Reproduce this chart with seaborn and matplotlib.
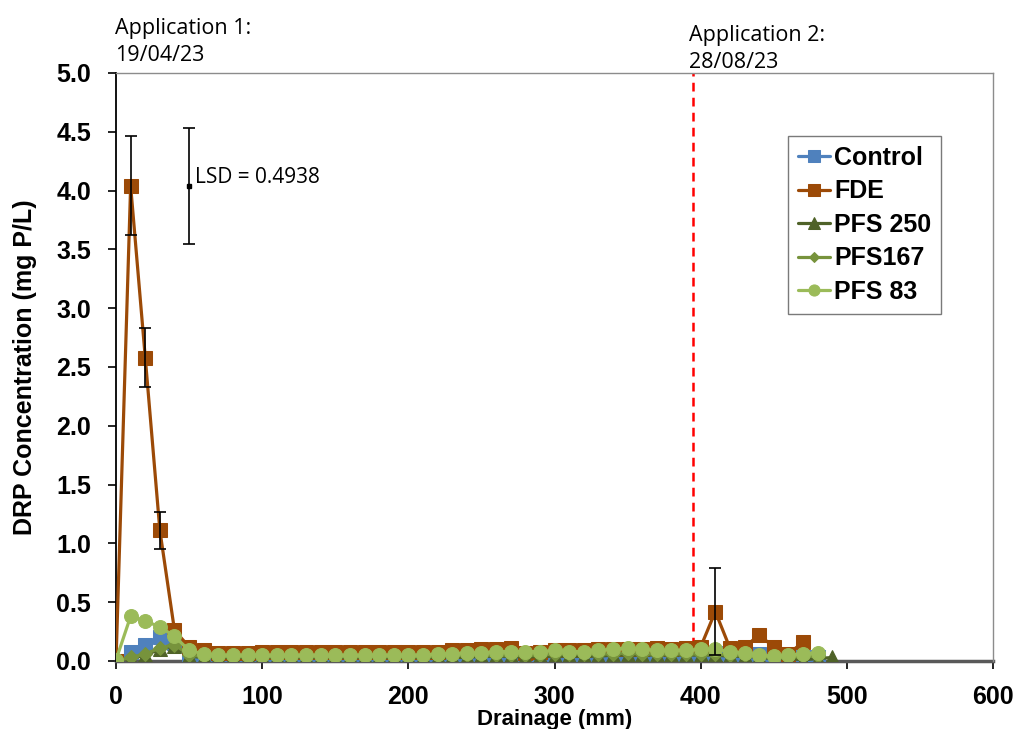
import numpy as np
import pandas as pd
import matplotlib
matplotlib.use("Agg")
import matplotlib.pyplot as plt
import seaborn as sns

# ---------------- data ----------------
drainage = list(range(0, 500, 10))  # 0..490 mm

control = [0.00, 0.08, 0.14, 0.20, 0.15, 0.04, 0.03, 0.03, 0.03, 0.03,
           0.03, 0.03, 0.03, 0.03, 0.03, 0.03, 0.03, 0.03, 0.03, 0.03,
           0.03, 0.03, 0.03, 0.04, 0.04, 0.04, 0.04, 0.03, 0.04, 0.04,
           0.05, 0.05, 0.05, 0.05, 0.05, 0.05, 0.05, 0.05, 0.05, 0.05,
           0.05, 0.07, 0.05, 0.05, 0.06, 0.03, 0.02, 0.03, 0.03]
fde = [0.00, 4.04, 2.58, 1.11, 0.26, 0.12, 0.09, 0.07, 0.07, 0.07,
       0.08, 0.08, 0.08, 0.08, 0.08, 0.08, 0.08, 0.08, 0.08, 0.08,
       0.08, 0.08, 0.08, 0.09, 0.09, 0.10, 0.10, 0.11, 0.07, 0.08,
       0.09, 0.09, 0.09, 0.10, 0.10, 0.10, 0.10, 0.11, 0.10, 0.11,
       0.12, 0.42, 0.11, 0.12, 0.22, 0.12, 0.06, 0.16]
pfs250 = [0.00, 0.02, 0.05, 0.10, 0.13, 0.04, 0.03, 0.03, 0.03, 0.03,
          0.03, 0.03, 0.03, 0.03, 0.03, 0.03, 0.03, 0.03, 0.03, 0.03,
          0.03, 0.03, 0.03, 0.03, 0.03, 0.04, 0.04, 0.04, 0.03, 0.04,
          0.04, 0.04, 0.04, 0.04, 0.05, 0.05, 0.05, 0.05, 0.05, 0.05,
          0.05, 0.05, 0.04, 0.04, 0.03, 0.02, 0.02, 0.01, 0.02, 0.03]
pfs167 = [0.00, 0.03, 0.06, 0.11, 0.14, 0.05, 0.04, 0.04, 0.04, 0.04,
          0.04, 0.04, 0.04, 0.04, 0.04, 0.04, 0.04, 0.04, 0.04, 0.04,
          0.04, 0.04, 0.04, 0.05, 0.05, 0.05, 0.05, 0.05, 0.05, 0.05,
          0.06, 0.06, 0.06, 0.06, 0.06, 0.07, 0.06, 0.06, 0.06, 0.06,
          0.06, 0.06, 0.05, 0.05, 0.04, 0.03, 0.03, 0.04, 0.04]
pfs83 = [0.01, 0.38, 0.34, 0.29, 0.21, 0.09, 0.06, 0.05, 0.05, 0.05,
         0.05, 0.05, 0.05, 0.05, 0.05, 0.05, 0.05, 0.05, 0.05, 0.05,
         0.05, 0.05, 0.06, 0.06, 0.07, 0.07, 0.08, 0.08, 0.08, 0.08,
         0.09, 0.08, 0.08, 0.09, 0.10, 0.11, 0.10, 0.09, 0.09, 0.09,
         0.10, 0.10, 0.08, 0.07, 0.05, 0.04, 0.05, 0.06, 0.07]

# FDE error bars (x, value, half-width)
fde_err_x = [10, 20, 30, 410]
fde_err_y = [4.04, 2.58, 1.11, 0.42]
fde_err = [0.42, 0.25, 0.16, 0.37]

lsd_x = 50
lsd_y = 4.04
lsd_value = 0.4938

app2_x = 395

series_names = ["Control", "FDE", "PFS 250", "PFS167", "PFS 83"]
series_vals = [control, fde, pfs250, pfs167, pfs83]
colors = ["#4F81BD", "#9C4A07", "#4F6228", "#77933C", "#9BBB59"]
markers = ["s", "s", "^", "D", "o"]
msizes = [10, 10, 10, 7, 10]

# ---------------- plot ----------------
sns.set_style("white")
plt.rcParams["font.family"] = ["Liberation Sans", "DejaVu Sans"]
plt.rcParams["text.color"] = "black"
plt.rcParams["xtick.color"] = "black"
plt.rcParams["ytick.color"] = "black"

fig = plt.figure(figsize=(10.16, 7.29), dpi=100)
ax = fig.add_axes([0.1142, 0.0933, 0.8632, 0.8066])

for name, vals, c, m, ms in zip(series_names, series_vals, colors, markers, msizes):
    df = pd.DataFrame({"x": drainage[:len(vals)], "y": vals})
    sns.lineplot(data=df, x="x", y="y", ax=ax, color=c, marker=m,
                 markersize=ms, markeredgecolor=c, linewidth=2.3,
                 label=name, zorder=3)

# error bars on FDE
ax.errorbar(fde_err_x, fde_err_y, yerr=fde_err, fmt="none", ecolor="black",
            elinewidth=1.2, capsize=4, capthick=1.2, zorder=4)
# LSD bar
ax.errorbar([lsd_x], [lsd_y], yerr=[lsd_value], fmt="s", color="black",
            markersize=2.5, elinewidth=1.2, capsize=4, capthick=1.2, zorder=4)
ax.text(lsd_x + 4, lsd_y + 0.07, f"LSD = {lsd_value}", fontsize=15,
        family=["Open Sans", "DejaVu Sans"], va="center", ha="left")

# application line
ax.axvline(app2_x, color="#FF0000", linestyle=(0, (3.5, 2.5)), linewidth=1.8, zorder=2)

ax.set_xlim(0, 600)
ax.set_ylim(0, 5.0)
ax.set_xticks(np.arange(0, 601, 100))
ax.set_yticks(np.arange(0, 5.01, 0.5))
ax.set_yticklabels([f"{v:.1f}" for v in np.arange(0, 5.01, 0.5)])
ax.tick_params(axis="both", which="major", labelsize=18, direction="out",
               length=6, width=1.2, color="black", labelcolor="black",
               bottom=True, left=True)
for lab in ax.get_xticklabels() + ax.get_yticklabels():
    lab.set_fontweight("bold")
ax.tick_params(axis="x", pad=11)
ax.tick_params(axis="y", pad=12)

ax.set_xlabel("Drainage (mm)", fontsize=16, fontweight="bold", labelpad=0,
              color="black")
ax.set_ylabel("DRP Concentration (mg P/L)", fontsize=18, fontweight="bold",
              labelpad=14, color="black")

for side in ["top", "right"]:
    ax.spines[side].set_color("#8C8C8C")
    ax.spines[side].set_linewidth(1.0)
ax.spines["left"].set_color("black")
ax.spines["left"].set_linewidth(1.3)
ax.spines["bottom"].set_color("#595959")
ax.spines["bottom"].set_linewidth(2.5)
ax.spines["bottom"].set_zorder(1)

leg = ax.legend(loc="upper left", bbox_to_anchor=(0.766, 0.893), frameon=True,
                fancybox=False, prop={"weight": "bold", "size": 18},
                handlelength=1.3, handletextpad=0.15, labelspacing=0.38,
                borderpad=0.4, borderaxespad=0, markerscale=0.8)
leg.get_frame().set_edgecolor("#595959")
leg.get_frame().set_linewidth(1.0)
for t in leg.get_texts():
    t.set_color("black")

fig.text(0.113, 1 - 66 / 729, "Application 1:\n19/04/23", fontsize=15.5,
         family=["Open Sans", "DejaVu Sans"], ha="left", va="bottom", linespacing=1.4)
fig.text(0.678, 1 - 73 / 729, "Application 2:\n28/08/23", fontsize=15.5,
         family=["Open Sans", "DejaVu Sans"], ha="left", va="bottom", linespacing=1.4)

fig.savefig("out.png", dpi=100, facecolor="white")
